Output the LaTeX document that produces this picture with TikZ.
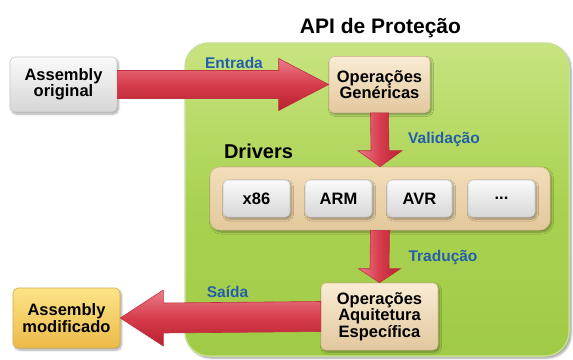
\documentclass[tikz,border=0pt]{standalone}
\usepackage{fontspec}
\setmainfont{Liberation Sans}
\usetikzlibrary{calc,shadows.blur}

\definecolor{panelTop}{RGB}{200,228,128}
\definecolor{panelMid}{RGB}{170,210,82}
\definecolor{panelBot}{RGB}{160,203,70}
\definecolor{panelEdge}{RGB}{198,222,145}
\definecolor{arrTop}{RGB}{236,125,138}
\definecolor{arrMid}{RGB}{214,60,76}
\definecolor{arrBot}{RGB}{182,32,48}
\definecolor{arrEdge}{RGB}{190,50,65}
\definecolor{grayTop}{RGB}{250,250,250}
\definecolor{grayBot}{RGB}{214,214,214}
\definecolor{grayEdge}{RGB}{200,200,200}
\definecolor{beigeTop}{RGB}{250,236,212}
\definecolor{beigeBot}{RGB}{226,200,158}
\definecolor{beigeEdge}{RGB}{215,190,150}
\definecolor{trayTop}{RGB}{242,222,186}
\definecolor{trayBot}{RGB}{228,200,156}
\definecolor{yelTop}{RGB}{252,228,135}
\definecolor{yelBot}{RGB}{236,186,72}
\definecolor{yelEdge}{RGB}{215,170,70}
\definecolor{labelBlue}{RGB}{35,95,170}

\tikzset{
  boxtext/.style={font=\fontsize{16.5}{16.5}\selectfont\bfseries, align=center, text=black},
  softshadow/.style={blur shadow={shadow xshift=1.5pt, shadow yshift=-2pt, shadow blur steps=6, shadow opacity=35}},
  graybox/.style={boxtext, rounded corners=5pt, draw=grayEdge, line width=0.6pt,
    top color=grayTop, bottom color=grayBot, softshadow, inner sep=0pt},
  beigebox/.style={boxtext, rounded corners=5pt, draw=beigeEdge, line width=0.6pt,
    top color=beigeTop, bottom color=beigeBot, softshadow, inner sep=0pt},
  yellowbox/.style={boxtext, rounded corners=5pt, draw=yelEdge, line width=0.6pt,
    top color=yelTop, bottom color=yelBot, softshadow, inner sep=0pt},
  harrow/.style={draw=arrEdge, line width=0.6pt, line join=miter,
    top color=arrTop, bottom color=arrBot, middle color=arrMid},
  varrow/.style={draw=arrEdge, line width=0.6pt, line join=miter,
    left color=arrTop, right color=arrBot, middle color=arrMid},
  steplabel/.style={font=\fontsize{15.5}{15.5}\selectfont\bfseries, text=labelBlue, anchor=base, inner sep=0pt},
}

\begin{document}
\begin{tikzpicture}[x=1pt, y=-1pt]
\useasboundingbox (0,0) rectangle (573,359);

% green area of the protection API
\node[draw=panelEdge, line width=1.5pt, rounded corners=24pt,
      top color=panelTop, bottom color=panelBot, middle color=panelMid,
      blur shadow={shadow xshift=2pt, shadow yshift=-2pt, shadow blur steps=5, shadow opacity=40},
      minimum width=384pt, minimum height=313pt, inner sep=0pt]
      (panel) at (377,199.5) {};

\node[font=\fontsize{21}{21}\selectfont\bfseries, anchor=base, inner sep=0pt]
      (title) at (380.5,33) {API de Proteção};

% boxes
\node[graybox, minimum width=107pt, minimum height=55pt] (orig) at (63.5,84.5)
      {Assembly\\original};
\node[beigebox, minimum width=101pt, minimum height=56pt] (opgen) at (379.5,84.5)
      {Operações\\Genéricas};

\node[rounded corners=10pt, draw=beigeEdge, line width=0.6pt,
      top color=trayTop, bottom color=trayBot, softshadow,
      minimum width=340pt, minimum height=63pt, inner sep=0pt]
      (drivers) at (380,198.5) {};

\node[graybox, minimum width=67pt, minimum height=37pt] (x86) at (256.5,198.5) {x86};
\node[graybox, minimum width=67pt, minimum height=37pt] (arm) at (338.5,198.5) {ARM};
\node[graybox, minimum width=65pt, minimum height=37pt] (avr) at (419.5,198.5) {AVR};
\node[graybox, minimum width=67pt, minimum height=37pt] (etc) at (501.5,198.5) {...};

\node[beigebox, minimum width=117pt, minimum height=67pt] (opspec) at (379.5,316.5)
      {Operações\\Aquitetura\\Específica};
\node[yellowbox, minimum width=107pt, minimum height=60pt] (out) at (66.5,318)
      {Assembly\\modificado};

% block arrows between the boxes
\path[harrow] ($(orig.east)+(0,-14)$) -- ($(opgen.west)+(-50,-14)$)
      -- ($(opgen.west)+(-50,-26)$) -- (opgen.west) -- ($(opgen.west)+(-50,26)$)
      -- ($(opgen.west)+(-50,14)$) -- ($(orig.east)+(0,14)$) -- cycle;

\path[varrow] ($(opgen.south)+(-9,0)$) -- ($(drivers.north)+(-9,-16)$)
      -- ($(drivers.north)+(-22,-16)$) -- (drivers.north) -- ($(drivers.north)+(22,-16)$)
      -- ($(drivers.north)+(9,-16)$) -- ($(opgen.south)+(9,0)$) -- cycle;

\path[varrow] ($(drivers.south)+(-9.5,0)$) -- ($(opspec.north)+(-9.5,-14)$)
      -- ($(opspec.north)+(-21,-14)$) -- (opspec.north) -- ($(opspec.north)+(21,-14)$)
      -- ($(opspec.north)+(9.5,-14)$) -- ($(drivers.south)+(9.5,0)$) -- cycle;

\path[harrow] ($(opspec.west)+(0,-15)$) -- ($(out.east)+(43,-15)$)
      -- ($(out.east)+(43,-28)$) -- (out.east) -- ($(out.east)+(43,28)$)
      -- ($(out.east)+(43,15)$) -- ($(opspec.west)+(0,15)$) -- cycle;

% step labels
\node[steplabel] (lin) at (234,68) {Entrada};
\node[steplabel] (lval) at (444,143) {Validação};
\node[font=\fontsize{20}{20}\selectfont\bfseries, anchor=base, inner sep=0pt]
      (ldrv) at (258.5,158) {Drivers};
\node[steplabel] (ltrad) at (443,261) {Tradução};
\node[steplabel] (lout) at (227.5,297) {Saída};
\end{tikzpicture}
\end{document}
